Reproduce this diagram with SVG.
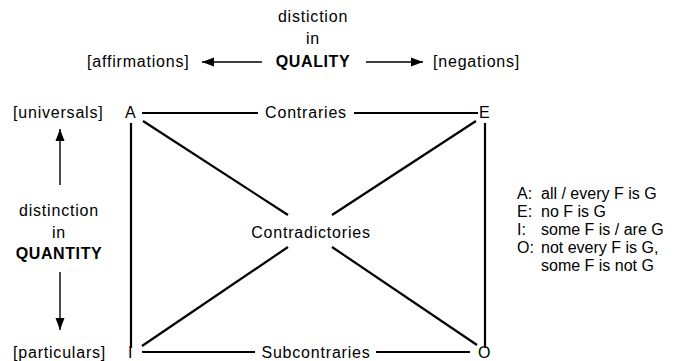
<svg xmlns="http://www.w3.org/2000/svg" width="693" height="361" viewBox="0 0 693 361">
<style>
text{font-family:"Liberation Sans",Arial,sans-serif;font-size:16px;fill:#000;letter-spacing:0.8px}
.b{font-weight:bold;letter-spacing:0.6px}
.m{text-anchor:middle}
#legend text{letter-spacing:0}
.ln{stroke:#000;stroke-width:2.2;fill:none}
.ar{stroke:#000;stroke-width:1.4;fill:none}
</style>
<defs>
<marker id="ah" markerWidth="12" markerHeight="10" refX="12" refY="5" orient="auto" markerUnits="userSpaceOnUse">
<path d="M0,0.5 L12,5 L0,9.5 Z" fill="#000"/>
</marker>
</defs>
<rect width="693" height="361" fill="#fff"/>
<g id="quality">
<text class="m" x="313" y="22">distiction</text>
<text class="m" x="313" y="44">in</text>
<text class="m b" x="313" y="67">QUALITY</text>
<text x="87" y="67">[affirmations]</text>
<text x="433" y="67">[negations]</text>
</g>
<g id="quantity">
<text x="13" y="118">[universals]</text>
<text class="m" x="59" y="216">distinction</text>
<text class="m" x="59" y="238">in</text>
<text class="m b" x="59" y="259">QUANTITY</text>
<text x="13" y="358">[particulars]</text>
</g>
<g id="node-A"><text x="125" y="118">A</text></g>
<g id="node-E"><text x="479" y="118">E</text></g>
<g id="node-I"><text x="128" y="358">I</text></g>
<g id="node-O"><text x="478" y="358">O</text></g>
<g id="labels">
<text class="m" x="306" y="118">Contraries</text>
<text class="m" x="311" y="238">Contradictories</text>
<text class="m" x="316" y="358">Subcontraries</text>
</g>
<g id="legend">
<text x="517" y="199">A:</text><text x="541" y="199">all / every F is G</text>
<text x="517" y="217">E:</text><text x="541" y="217">no F is G</text>
<text x="517" y="235">I:</text><text x="541" y="235">some F is / are G</text>
<text x="517" y="253">O:</text><text x="541" y="253">not every F is G,</text>
<text x="541" y="271">some F is not G</text>
</g>
<g id="connectors">
<line class="ar" x1="262" y1="62" x2="202" y2="62" marker-end="url(#ah)"/>
<line class="ar" x1="366" y1="62" x2="423" y2="62" marker-end="url(#ah)"/>
<line class="ar" x1="60" y1="185" x2="60" y2="129" marker-end="url(#ah)"/>
<line class="ar" x1="60" y1="272" x2="60" y2="330" marker-end="url(#ah)"/>
<line class="ln" x1="142" y1="113" x2="258" y2="113"/>
<line class="ln" x1="354" y1="113" x2="478" y2="113"/>
<line class="ln" x1="142" y1="352" x2="255" y2="352"/>
<line class="ln" x1="376" y1="352" x2="470" y2="352"/>
<line class="ln" x1="131" y1="123" x2="131" y2="348"/>
<line class="ln" x1="485" y1="123" x2="485" y2="348"/>
<line class="ln" x1="143" y1="121" x2="288" y2="215"/>
<line class="ln" x1="332" y1="247" x2="477" y2="345"/>
<line class="ln" x1="476" y1="121" x2="332" y2="215"/>
<line class="ln" x1="288" y1="247" x2="142" y2="346"/>
</g>
</svg>
